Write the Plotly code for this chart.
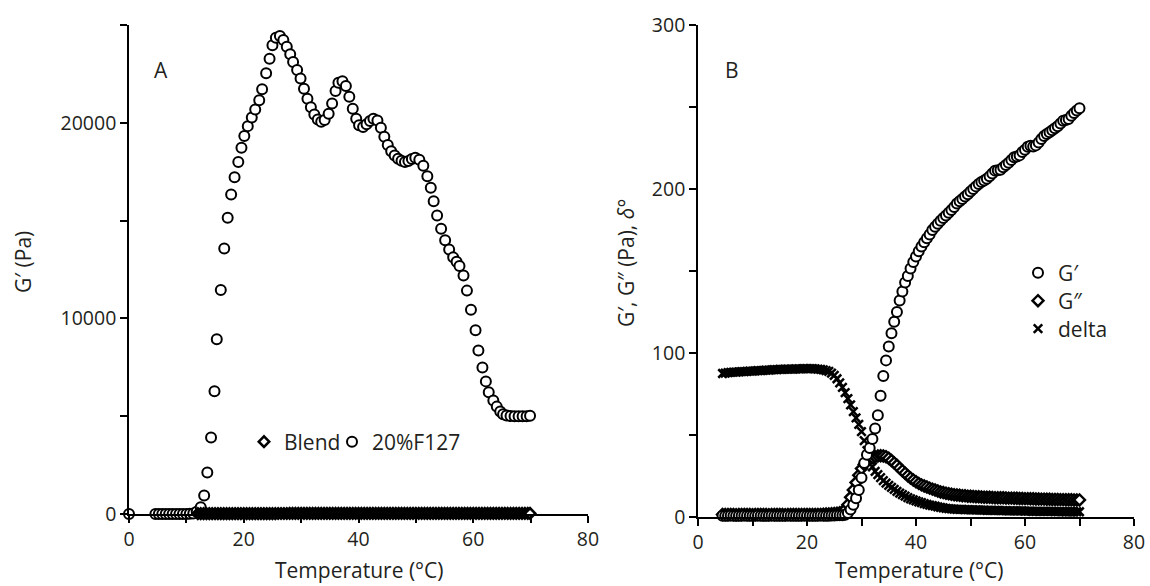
import plotly.graph_objects as go

# ---------------- data ----------------
# Panel B (blend): temperature ramp and moduli / phase angle
T_B = [4.5, 5.0, 5.5, 6.0, 6.5, 7.0, 7.5, 8.0, 8.5, 9.0,
       9.5, 10.0, 10.5, 11.0, 11.5, 12.0, 12.5, 13.0, 13.5, 14.0,
       14.5, 15.0, 15.5, 16.0, 16.5, 17.0, 17.5, 18.0, 18.5, 19.0,
       19.5, 20.0, 20.5, 21.0, 21.5, 22.0, 22.5, 23.0, 23.5, 24.0,
       24.5, 25.0, 25.5, 26.0, 26.5, 27.0, 27.5, 28.0, 28.5, 29.0,
       29.5, 30.0, 30.5, 31.0, 31.5, 32.0, 32.5, 33.0, 33.5, 34.0,
       34.5, 35.0, 35.5, 36.0, 36.5, 37.0, 37.5, 38.0, 38.5, 39.0,
       39.5, 40.0, 40.5, 41.0, 41.5, 42.0, 42.5, 43.0, 43.5, 44.0,
       44.5, 45.0, 45.5, 46.0, 46.5, 47.0, 47.5, 48.0, 48.5, 49.0,
       49.5, 50.0, 50.5, 51.0, 51.5, 52.0, 52.5, 53.0, 53.5, 54.0,
       54.5, 55.0, 55.5, 56.0, 56.5, 57.0, 57.5, 58.0, 58.5, 59.0,
       59.5, 60.0, 60.5, 61.0, 61.5, 62.0, 62.5, 63.0, 63.5, 64.0,
       64.5, 65.0, 65.5, 66.0, 66.5, 67.0, 67.5, 68.0, 68.5, 69.0,
       69.5, 70.0]

G1_B = [0.8, 0.7, 0.8, 0.9, 0.8, 0.7, 0.8, 0.8, 0.9, 0.8,
        0.7, 0.8, 0.8, 0.9, 0.8, 0.8, 0.7, 0.8, 0.9, 0.8,
        0.8, 0.7, 0.8, 0.8, 0.9, 0.8, 0.8, 0.7, 0.8, 0.8,
        0.9, 0.8, 0.8, 0.7, 0.8, 0.8, 0.9, 0.8, 0.8, 0.8,
        0.9, 0.9, 1.0, 1.0, 1.1, 1.3, 2.5, 4.5, 7.5, 11.5,
        16.5, 24, 33, 38, 42, 47.5, 54, 62, 74, 86,
        95.5, 104, 112, 119, 125, 132, 137.5, 143, 147, 151.5,
        155.5, 158.8, 162, 165, 167.5, 170, 172.3, 175, 177, 178.8,
        180.7, 182.3, 183.8, 185.5, 187.2, 189, 191.2, 192.6, 193.9, 195.4,
        196.8, 198.5, 200, 201.6, 203, 204.2, 205.2, 206.3, 207.7, 209.5,
        211.2, 211.4, 211.8, 213.3, 214.7, 216, 217.7, 219.3, 219.8, 220.5,
        222.5, 224, 225.8, 226.4, 225.9, 226.6, 228.4, 230.5, 232.3, 233.5,
        234.6, 235.8, 237, 238.2, 240, 241.6, 242, 242.7, 244.6, 246.3,
        247.8, 249.2]

G2_B = [1.6, 1.5, 1.5, 1.6, 1.5, 1.4, 1.5, 1.5, 1.6, 1.5,
        1.5, 1.4, 1.5, 1.5, 1.6, 1.5, 1.5, 1.4, 1.5, 1.5,
        1.6, 1.5, 1.5, 1.4, 1.5, 1.5, 1.6, 1.5, 1.5, 1.5,
        1.5, 1.6, 1.5, 1.5, 1.5, 1.6, 1.6, 1.7, 1.8, 1.9,
        2.0, 2.1, 2.3, 2.6, 3.2, 4.5, 7.5, 12, 16.5, 21,
        25.5, 29.5, 32, 34, 35.3, 36.2, 36.8, 37.2, 37.3, 37.2,
        36.8, 35.8, 34.4, 33, 31.5, 29.8, 28.2, 26.7, 25.2, 23.8,
        22.6, 21.5, 20.5, 19.6, 18.9, 18.3, 17.6, 17, 16.4, 15.8,
        15.3, 14.9, 14.5, 14.2, 13.9, 13.6, 13.4, 13.2, 13.0, 12.9,
        12.7, 12.6, 12.5, 12.4, 12.3, 12.2, 12.1, 12.0, 12.0, 11.9,
        11.8, 11.8, 11.7, 11.7, 11.6, 11.5, 11.5, 11.4, 11.4, 11.3,
        11.3, 11.2, 11.2, 11.1, 11.1, 11.0, 11.0, 10.9, 10.9, 10.8,
        10.8, 10.7, 10.7, 10.7, 10.6, 10.6, 10.5, 10.5, 10.5, 10.4,
        10.4, 10.4]

D_B = [87.5, 87.8, 88.0, 88.2, 88.3, 88.4, 88.5, 88.6, 88.7, 88.8,
       88.9, 89.0, 89.1, 89.2, 89.3, 89.4, 89.5, 89.6, 89.7, 89.8,
       89.9, 90.0, 90.0, 90.1, 90.1, 90.2, 90.2, 90.3, 90.3, 90.3,
       90.4, 90.4, 90.4, 90.4, 90.3, 90.2, 90.0, 89.7, 89.3, 88.8,
       87.8, 86.3, 84.3, 81.8, 79.0, 75.8, 72.2, 68.3, 64.3, 60.5,
       56.5, 52.0, 46.5, 40.5, 34.8, 30.5, 27.8, 25.8, 24.0, 22.2,
       20.7, 19.3, 18.0, 16.8, 15.6, 14.6, 13.6, 12.7, 11.8, 11.0,
       10.4, 9.8, 9.2, 8.7, 8.2, 7.7, 7.3, 6.9, 6.6, 6.2,
       5.9, 5.6, 5.3, 5.1, 4.9, 4.8, 4.7, 4.6, 4.6, 4.5,
       4.5, 4.4, 4.4, 4.3, 4.3, 4.2, 4.2, 4.1, 4.1, 4.0,
       4.0, 4.0, 3.9, 3.9, 3.9, 3.8, 3.8, 3.8, 3.7, 3.7,
       3.7, 3.6, 3.6, 3.6, 3.5, 3.5, 3.5, 3.5, 3.4, 3.4,
       3.4, 3.4, 3.3, 3.3, 3.3, 3.3, 3.2, 3.2, 3.2, 3.2,
       3.2, 3.2]

# Panel A: Blend storage modulus (flat, close to zero on this scale)
T_BLEND = [12.0, 12.5, 13.0, 13.5, 14.0, 14.5, 15.0, 15.5, 16.0, 16.5,
           17.0, 17.5, 18.0, 18.5, 19.0, 19.5, 20.0, 20.5, 21.0, 21.5,
           22.0, 22.5, 23.0, 23.5, 24.0, 24.5, 25.0, 25.5, 26.0, 26.5,
           27.0, 27.5, 28.0, 28.5, 29.0, 29.5, 30.0, 30.5, 31.0, 31.5,
           32.0, 32.5, 33.0, 33.5, 34.0, 34.5, 35.0, 35.5, 36.0, 36.5,
           37.0, 37.5, 38.0, 38.5, 39.0, 39.5, 40.0, 40.5, 41.0, 41.5,
           42.0, 42.5, 43.0, 43.5, 44.0, 44.5, 45.0, 45.5, 46.0, 46.5,
           47.0, 47.5, 48.0, 48.5, 49.0, 49.5, 50.0, 50.5, 51.0, 51.5,
           52.0, 52.5, 53.0, 53.5, 54.0, 54.5, 55.0, 55.5, 56.0, 56.5,
           57.0, 57.5, 58.0, 58.5, 59.0, 59.5, 60.0, 60.5, 61.0, 61.5,
           62.0, 62.5, 63.0, 63.5, 64.0, 64.5, 65.0, 65.5, 66.0, 66.5,
           67.0, 67.5, 68.0, 68.5, 69.0, 69.5, 69.9]
G_BLEND = [20, 20, 20, 20, 20, 20, 20, 20, 20, 20,
           20, 20, 20, 20, 20, 20, 20, 20, 20, 20,
           20, 20, 20, 20, 20, 20, 20, 20, 25, 25,
           25, 25, 30, 30, 30, 30, 30, 30, 30, 30,
           30, 30, 30, 30, 30, 30, 30, 30, 30, 30,
           30, 30, 30, 30, 30, 30, 30, 30, 30, 30,
           30, 30, 30, 30, 30, 30, 30, 30, 30, 30,
           30, 30, 30, 30, 30, 30, 30, 30, 30, 30,
           30, 30, 30, 30, 30, 30, 30, 30, 30, 30,
           30, 30, 30, 30, 30, 30, 30, 30, 30, 30,
           30, 30, 30, 30, 30, 30, 30, 30, 30, 30,
           30, 30, 30, 30, 30, 30, 30]

# Panel A: 20% F127 storage modulus
T_F = [0.0, 4.6, 5.2, 5.8, 6.4, 7.0, 7.6, 8.2, 8.8, 9.4,
       10.0, 10.6, 11.2, 11.8, 12.5, 13.1, 13.65, 14.3, 14.9, 15.3,
       16.0, 16.6, 17.2, 17.8, 18.4, 19.05, 19.6, 20.1, 20.7, 21.4,
       22.0, 22.7, 23.2, 23.9, 24.5, 25.0, 25.6, 26.3, 26.9, 27.5,
       28.1, 28.6, 29.3, 29.9, 30.5, 31.1, 31.7, 32.3, 32.9, 33.5,
       34.1, 34.8, 35.4, 36.0, 36.5, 37.2, 37.8, 38.4, 39.0, 39.6,
       40.1, 40.8, 41.4, 42.0, 42.6, 43.3, 43.9, 44.5, 45.1, 45.7,
       46.3, 46.9, 47.5, 48.1, 48.7, 49.3, 49.9, 50.6, 51.3, 52.0,
       52.6, 53.1, 53.7, 54.4, 55.1, 55.8, 56.5, 57.1, 57.6, 58.3,
       58.9, 59.6, 60.4, 60.9, 61.6, 62.2, 62.7, 63.5, 64.1, 64.7,
       65.2, 65.8, 66.5, 67.2, 67.9, 68.6, 69.3, 69.9]

G_F = [0, 0, 0, 0, 0, 0, 0, 0, 0, 0,
       0, 10, 30, 120, 340, 950, 2120, 3910, 6270, 8930,
       11450, 13570, 15140, 16330, 17220, 18000, 18720, 19320, 19830, 20270,
       20680, 21150, 21710, 22530, 23280, 23960, 24350, 24440, 24230, 23890,
       23500, 23110, 22700, 22260, 21740, 21230, 20800, 20430, 20170, 20050,
       20140, 20460, 20990, 21620, 22050, 22130, 21880, 21330, 20720, 20210,
       19870, 19780, 19920, 20090, 20210, 20120, 19750, 19290, 18860, 18550,
       18330, 18160, 18060, 18000, 18050, 18150, 18210, 18110, 17800, 17270,
       16680, 15990, 15260, 14580, 13990, 13520, 13120, 12900, 12680, 12190,
       11420, 10440, 9390, 8360, 7490, 6780, 6220, 5800, 5490, 5240,
       5100, 5030, 5010, 5000, 5000, 5000, 5000, 5020]

# ticks
X_TICKS = [0, 10, 20, 30, 40, 50, 60, 70, 80]
X_TICK_TEXT = ["0", "", "20", "", "40", "", "60", "", "80"]
YA_TICKS = [0, 5000, 10000, 15000, 20000, 25000]
YA_TICK_TEXT = ["0", "", "10000", "", "20000", ""]
YB_TICKS = [0, 50, 100, 150, 200, 250, 300]
YB_TICK_TEXT = ["0", "", "100", "", "200", "", "300"]

# ---------------- style ----------------
W, H = 1150, 586
FONT = "Open Sans"
TXT = "#231f20"
TICK_SIZE = 19.5
TEXT_SIZE = 21

circleA = dict(symbol="circle", size=10, color="white", line=dict(color="black", width=2.0))
diamondA = dict(symbol="diamond", size=8, color="white", line=dict(color="black", width=2.6))
circleB = dict(symbol="circle", size=10, color="white", line=dict(color="black", width=2.0))
diamondB = dict(symbol="diamond", size=8.5, color="white", line=dict(color="black", width=2.4))
crossB = dict(symbol="x-thin", size=8.5, color="black", line=dict(color="black", width=2.5))

fig = go.Figure()
fig.add_trace(go.Scatter(x=T_F, y=G_F, mode="markers", marker=circleA, name="20%F127",
                         xaxis="x", yaxis="y", legend="legend2", cliponaxis=False))
fig.add_trace(go.Scatter(x=T_BLEND, y=G_BLEND, mode="markers", marker=diamondA, name="Blend",
                         xaxis="x", yaxis="y", legend="legend", cliponaxis=False))
fig.add_trace(go.Scatter(x=T_B, y=D_B, mode="markers", marker=crossB, name="delta",
                         xaxis="x2", yaxis="y2", legend="legend5", cliponaxis=False))
fig.add_trace(go.Scatter(x=T_B, y=G2_B, mode="markers", marker=diamondB, name="G″",
                         xaxis="x2", yaxis="y2", legend="legend4", cliponaxis=False))
fig.add_trace(go.Scatter(x=T_B, y=G1_B, mode="markers", marker=circleB, name="G′",
                         xaxis="x2", yaxis="y2", legend="legend3", cliponaxis=False))


def px_x(p):
    return p / W


def px_y(p):
    return 1 - p / H


axis_common = dict(showline=True, linecolor="black", linewidth=1.6, ticks="outside",
                   ticklen=7, tickwidth=1.6, tickcolor="black", showgrid=False,
                   zeroline=False, automargin=False, tickmode="array",
                   tickfont=dict(family=FONT, size=TICK_SIZE, color=TXT))

fig.update_layout(
    xaxis=dict(axis_common, domain=[px_x(129), px_x(588)], range=[0, 80],
               tickvals=X_TICKS, ticktext=X_TICK_TEXT, anchor="y", ticklabelstandoff=0),
    yaxis=dict(axis_common, domain=[px_y(514), px_y(25)], range=[0, 25000],
               tickvals=YA_TICKS, ticktext=YA_TICK_TEXT, anchor="x", ticklabelstandoff=0),
    xaxis2=dict(axis_common, domain=[px_x(698), px_x(1134)], range=[0, 80],
                tickvals=X_TICKS, ticktext=X_TICK_TEXT, anchor="y2", ticklabelstandoff=0),
    yaxis2=dict(axis_common, domain=[px_y(517), px_y(25)], range=[0, 300],
                tickvals=YB_TICKS, ticktext=YB_TICK_TEXT, anchor="x2", ticklabelstandoff=0),
)


def leg(xsym, ysym):
    return dict(x=px_x(xsym - 20), y=px_y(ysym), xanchor="left", yanchor="middle",
                font=dict(family=FONT, size=TEXT_SIZE, color=TXT), bgcolor="rgba(0,0,0,0)",
                borderwidth=0, orientation="v")


fig.update_layout(
    showlegend=True,
    legend=leg(264, 442),
    legend2=leg(352, 442),
    legend3=leg(1038, 273),
    legend4=leg(1038, 301),
    legend5=leg(1038, 329),
)

ann_font = dict(family=FONT, size=TEXT_SIZE, color=TXT)
annotations = [
    dict(text="A", x=px_x(161), y=px_y(70), yanchor="middle"),
    dict(text="B", x=px_x(732), y=px_y(70), yanchor="middle"),
    dict(text="G′ (Pa)", x=px_x(23), y=px_y(262), textangle=-90, yanchor="middle"),
    dict(text="G′, G″ (Pa), <i>δ</i>°", x=px_x(626), y=px_y(263), textangle=-90,
         yanchor="middle"),
    dict(text="Temperature (°C)", x=px_x(359), y=0, yanchor="bottom"),
    dict(text="Temperature (°C)", x=px_x(919), y=0, yanchor="bottom"),
]
for a in annotations:
    a.update(xref="paper", yref="paper", showarrow=False, font=ann_font, xanchor="center")

fig.update_layout(
    annotations=annotations,
    width=W, height=H,
    margin=dict(l=0, r=0, t=0, b=0),
    paper_bgcolor="white", plot_bgcolor="white",
    font=dict(family=FONT, size=TICK_SIZE, color=TXT),
)

fig.write_html(
    "out.html",
    config={"displayModeBar": False},
    post_script="document.body.style.margin='0px';document.body.style.overflow='hidden';",
)
